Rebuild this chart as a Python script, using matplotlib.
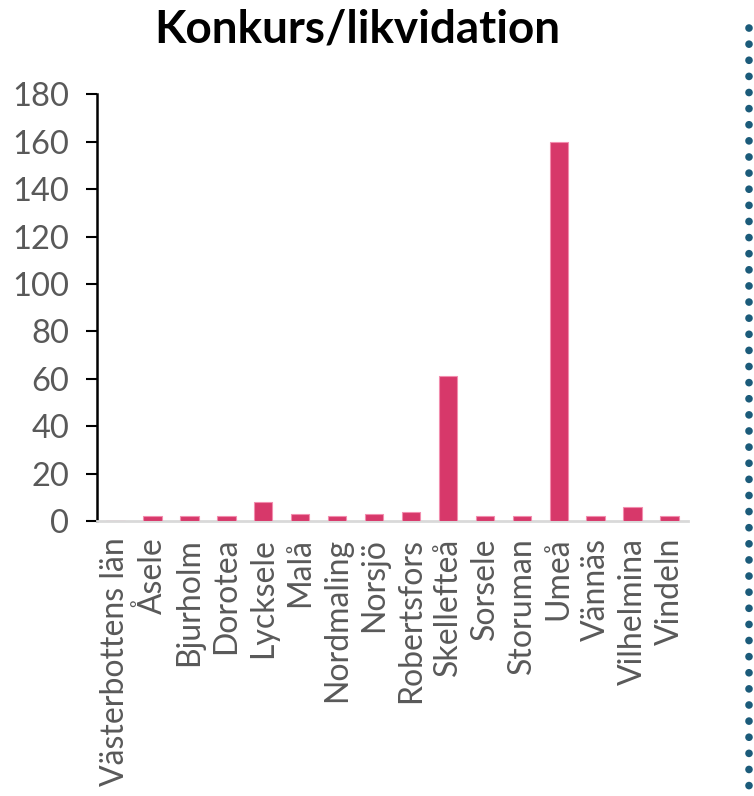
import matplotlib.pyplot as plt
from matplotlib.lines import Line2D

plt.rcParams['font.family'] = ['Lato', 'DejaVu Sans']

kommuner = ["Västerbottens län", "Åsele", "Bjurholm", "Dorotea", "Lycksele", "Malå",
            "Nordmaling", "Norsjö", "Robertsfors", "Skellefteå", "Sorsele", "Storuman",
            "Umeå", "Vännäs", "Vilhelmina", "Vindeln"]
antal = [0, 2, 2, 2, 8, 3, 2, 3, 4, 61, 2, 2, 160, 2, 6, 2]
yticks = list(range(0, 181, 20))

fig = plt.figure(figsize=(7.54, 7.96), dpi=100)
ax = fig.add_axes([0.1286, 0.3455, 0.784, 0.5358])

x = range(len(kommuner))
ax.bar(x, antal, width=0.5, color="#D7386A", edgecolor="#F28DAE", linewidth=0.8, zorder=3)

ax.set_xlim(-0.5, len(kommuner) - 0.5)
ax.set_ylim(0, 180)
ax.set_yticks(yticks)
ax.set_yticklabels([str(v) for v in yticks], fontsize=23.5, color="#595959")
ax.set_xticks(list(x))
ax.set_xticklabels(kommuner, rotation=90, fontsize=23, color="#595959")
ax.tick_params(axis="y", color="black", length=8, width=1.5, direction="out", pad=12)
ax.tick_params(axis="x", length=0, pad=12)

for s in ["top", "right"]:
    ax.spines[s].set_visible(False)
ax.spines["left"].set_linewidth(1.8)
ax.spines["left"].set_color("black")
ax.spines["bottom"].set_color("#D9D9D9")
ax.spines["bottom"].set_linewidth(2)

fig.text(0.474, 0.963, "Konkurs/likvidation", ha="center", va="center",
         fontsize=33, fontweight="bold", color="black")

# dotted divider on the right
fig.add_artist(Line2D([749 / 754, 749 / 754], [1 - 28 / 796, 1 - 792 / 796],
                      transform=fig.transFigure, color="#1B5B7A", linewidth=5.5,
                      linestyle=(0, (0.01, 2.1)), dash_capstyle="round"))

fig.savefig("out.png", dpi=100)
